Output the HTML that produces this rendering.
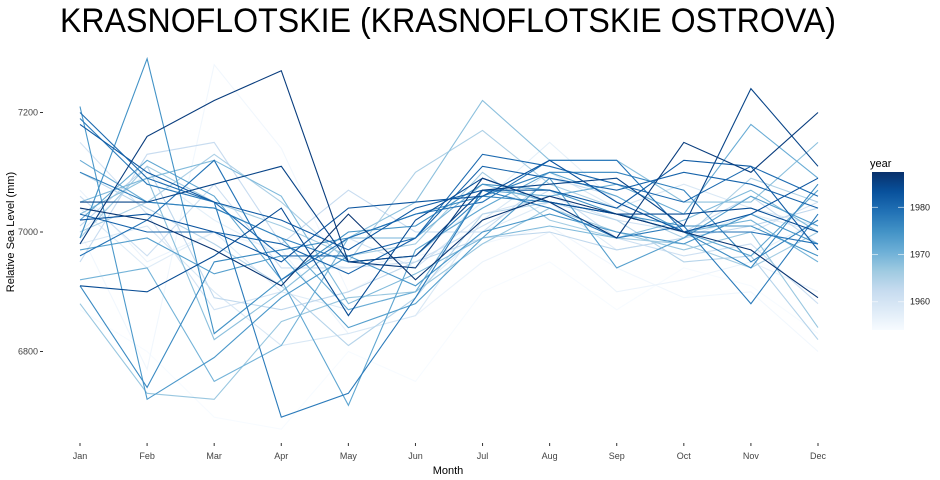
<!DOCTYPE html>
<html><head><meta charset="utf-8"><style>
body{margin:0;background:#fff;font-family:"Liberation Sans",sans-serif}
svg{display:block}
</style></head><body>
<svg id="chart" width="940" height="480">
<text x="60" y="32" font-size="34" textLength="776" lengthAdjust="spacingAndGlyphs" fill="#000">KRASNOFLOTSKIE (KRASNOFLOTSKIE OSTROVA)</text>
<g id="axes"></g>
<g id="lines"></g>
<g id="legend"></g>
<text x="448" y="474" font-size="11" text-anchor="middle" fill="#000">Month</text>
<text transform="translate(14,232) rotate(-90)" font-size="11" text-anchor="middle" fill="#000">Relative Sea Level (mm)</text>
</svg>
<script>
const months=["Jan","Feb","Mar","Apr","May","Jun","Jul","Aug","Sep","Oct","Nov","Dec"];
const yTicks=[6800,7000,7200];
const legendTicks=[1960,1970,1980];
const years=[1954,1955,1956,1957,1958,1959,1960,1961,1962,1963,1964,1965,1966,1967,1968,1969,1970,1971,1972,1973,1974,1975,1976,1977,1978,1979,1980,1981,1982,1983,1984,1985,1986,1987];
const values=[
[6870,6800,6690,6670,6800,6750,6900,6950,6870,6940,6910,6830],
[7000,6770,7280,7140,6900,6960,6980,7010,6940,6890,6900,6800],
[7070,6950,7000,6970,6830,6860,6950,7000,6900,6920,6950,6900],
[7000,7100,7020,6960,6940,6960,7050,7150,7050,7000,6960,7020],
[7040,6940,7000,6900,6870,6900,7000,7050,6970,6990,7030,7000],
[6980,7010,6900,6810,6830,6860,7020,7100,7040,7080,7040,7010],
[7150,7030,6870,6900,6990,6940,7030,7060,7020,7000,7000,7050],
[7060,6960,7080,6940,6940,6950,7010,7070,6990,6960,6980,6880],
[6950,7130,7150,6980,7070,7000,7000,7090,7060,7000,7060,6980],
[7010,7110,6890,6870,6900,6950,6990,7000,6970,6990,7010,7040],
[7100,7040,6980,6910,6810,6890,7030,7050,7020,6950,6960,6820],
[7000,7050,7130,7050,6950,7100,7170,7080,7040,6990,7090,7050],
[6990,7110,7050,7010,6960,6980,7100,7020,6990,6980,6940,7000],
[6880,6730,6720,6850,6890,6900,6980,7040,7000,6970,7000,6840],
[7030,7090,6820,6900,6990,7050,7220,7120,7120,7050,7050,7150],
[7050,7090,7120,7060,6880,6930,6990,7010,6990,7020,7070,7000],
[6920,6940,6750,6810,6990,6990,7080,7050,7030,7000,7020,6950],
[7120,7050,7040,6990,6870,6900,7070,7060,7080,7030,7180,7090],
[7020,7120,7060,6920,6710,6970,7040,7100,7060,7000,6960,7070],
[6970,6990,6930,6960,6840,6880,6990,7090,6940,6990,7060,7010],
[7210,6720,6790,6890,6960,6910,7000,7030,7000,6980,7030,6980],
[6990,7290,6830,6920,7000,7010,7080,7070,7030,7010,7010,6960],
[6910,6740,6950,6970,6990,7030,7060,7050,7030,7000,6940,7080],
[7100,7050,7040,6990,6950,6960,7060,7100,7100,7070,6950,7020],
[7190,7080,7050,6690,6730,6890,7070,7040,6990,7010,6880,7030],
[6960,7020,7120,6920,6990,7030,7050,7120,7120,7000,7000,6980],
[7200,7090,7050,6960,6960,6990,7130,7110,7080,7050,7110,7060],
[7030,7000,7000,6980,6930,6990,7110,7090,7070,7100,7080,7040],
[7180,7100,7050,7020,6970,7040,7070,7070,7040,7120,7110,6970],
[7020,7030,7000,6950,7040,7050,7060,7120,7050,7000,7030,7090],
[6910,6900,6960,7040,6860,7020,7090,7050,7030,7030,7040,7000],
[7050,7050,7080,7110,6950,6960,7070,7080,7090,7010,7240,7110],
[6980,7160,7220,7270,6950,6940,7090,7050,6990,7150,7100,7200],
[7040,7020,6970,6910,7030,6920,7020,7060,7030,7000,6970,6890]
];
const NS="http://www.w3.org/2000/svg";
const xScale=i=>80+i*(818-80)/11;
const yScale=v=>232-(v-7000)*(119.5/200);
const yMin=1954,yMax=1987.5;
const stops=[[247,251,255],[222,235,247],[198,219,239],[158,202,225],[107,174,214],[66,146,198],[33,113,181],[8,81,156],[8,48,107]];
function col(yr){let t=(yr-yMin)/(yMax-yMin);t=Math.max(0,Math.min(1,t))*(stops.length-1);const i=Math.min(Math.floor(t),stops.length-2),f=t-i;const c=stops[i].map((a,k)=>Math.round(a+(stops[i+1][k]-a)*f));return `rgb(${c})`;}
function mk(tag,attrs,parent){const e=document.createElementNS(NS,tag);for(const k in attrs)e.setAttribute(k,attrs[k]);parent.appendChild(e);return e;}
const axes=document.getElementById('axes');
months.forEach((m,i)=>{
  mk('line',{x1:xScale(i),x2:xScale(i),y1:443,y2:446,stroke:'#333'},axes);
  const t=mk('text',{x:xScale(i),y:459,'font-size':9,'text-anchor':'middle',fill:'#444'},axes);
  t.textContent=m;
  
  
});
yTicks.forEach(v=>{
  mk('line',{x1:40,x2:43,y1:yScale(v),y2:yScale(v),stroke:'#333'},axes);
  const t=mk('text',{x:38,y:yScale(v)+3,'font-size':9,'text-anchor':'end',fill:'#444'},axes);
  t.textContent=v;
  
  
});
const lg=document.getElementById('lines');
years.forEach((yr,j)=>{
  const d=values[j].map((v,i)=>(i?'L':'M')+xScale(i).toFixed(1)+','+yScale(v).toFixed(1)).join('');
  const p=mk('path',{d:d,fill:'none',stroke:col(yr),'stroke-width':1.1},lg);
  
  
});
const leg=document.getElementById('legend');
const lt=mk('text',{x:870,y:167,'font-size':11,fill:'#000'},leg);
lt.textContent='year';


const defs=mk('defs',{},leg);
const grad=mk('linearGradient',{id:'g',x1:0,y1:1,x2:0,y2:0},defs);
stops.forEach((s,i)=>mk('stop',{offset:i/(stops.length-1),'stop-color':`rgb(${s})`},grad));
const yc=yr=>330-(yr-yMin)/(yMax-yMin)*158;
const bar=mk('rect',{x:872,y:172,width:32,height:158,fill:'url(#g)'},leg);


legendTicks.forEach(yr=>{
  mk('line',{x1:872,x2:878,y1:yc(yr),y2:yc(yr),stroke:'#fff','stroke-opacity':0.6},leg);
  mk('line',{x1:898,x2:904,y1:yc(yr),y2:yc(yr),stroke:'#fff','stroke-opacity':0.6},leg);
  const t=mk('text',{x:910,y:yc(yr)+3,'font-size':9,fill:'#222'},leg);
  t.textContent=yr;
  
  
});
</script>
</body></html>
